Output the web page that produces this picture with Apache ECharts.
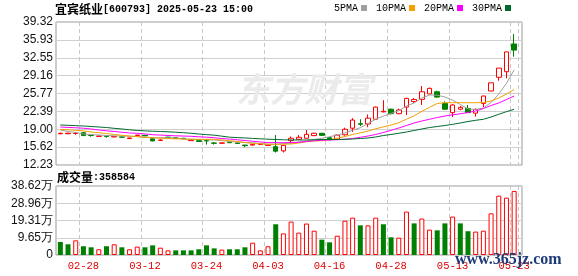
<!DOCTYPE html>
<html><head><meta charset="utf-8">
<script src="https://cdn.jsdelivr.net/npm/echarts@6/dist/echarts.min.js"></script>
<style>html,body{margin:0;padding:0;background:#fff}#c{width:578px;height:276px}</style>
</head><body><div id="c"></div>
<script>
const dates = [
 '02-25','02-26','02-27','02-28','03-03','03-04','03-05','03-06','03-07','03-10',
 '03-11','03-12','03-13','03-14','03-17','03-18','03-19','03-20','03-21','03-24',
 '03-25','03-26','03-27','03-28','03-31','04-01','04-02','04-03','04-07','04-08',
 '04-09','04-10','04-11','04-14','04-15','04-16','04-17','04-18','04-21','04-22',
 '04-23','04-24','04-25','04-28','04-29','04-30','05-06','05-07','05-08','05-09',
 '05-12','05-13','05-14','05-15','05-16','05-19','05-20','05-21','05-22','05-23'];
const openP = [
 18.15,18.15,18.2,18.35,17.85,17.65,17.75,17.55,17.55,17.23,
 17.82,17.85,17.2,16.9,17.5,17.4,17.3,16.85,16.84,16.85,
 16.4,16.35,16.55,16.4,16.0,16.0,16.1,15.95,15.7,14.9,
 16.85,17.1,17.3,17.8,18.24,17.4,17.1,17.95,19.2,20.05,
 20.0,20.9,22.3,22.8,21.95,23.2,24.25,24.66,25.7,26.1,
 23.9,22.15,22.8,22.95,22.05,23.9,26.25,28.85,29.9,35.15];
const closeP = [
 18.25,18.25,18.25,17.8,17.8,17.72,17.65,17.62,17.5,17.35,
 17.9,17.75,16.8,16.95,17.45,17.3,17.2,16.97,16.68,16.78,
 16.35,16.42,16.45,16.3,15.9,16.15,16.2,16.05,14.85,15.95,
 17.3,17.48,18.05,18.24,17.85,17.0,17.9,19.0,20.75,19.95,
 21.1,23.2,22.4,21.95,22.65,24.85,24.65,26.1,26.75,25.1,
 22.8,23.6,23.15,22.15,22.75,25.3,27.8,30.58,33.66,34.0];
const lowP = [
 18.05,18.1,17.95,17.75,17.6,17.6,17.4,17.5,17.35,17.2,
 17.75,17.7,16.7,16.8,17.35,17.25,17.15,16.8,16.6,16.1,
 16.1,16.3,16.4,16.25,15.6,15.95,16.05,15.9,14.6,14.6,
 16.35,17.05,17.25,17.7,17.75,16.95,17.05,17.8,18.5,19.6,
 19.4,20.8,22.2,21.8,21.85,21.7,24.0,23.6,25.6,24.95,
 22.75,21.3,22.6,22.1,21.4,23.2,26.2,28.2,28.65,32.75];
const highP = [
 18.35,18.35,18.45,18.5,18.1,17.8,17.85,17.7,17.65,17.4,
 17.95,17.9,17.3,17.1,17.55,17.45,17.35,17.0,16.9,17.1,
 16.55,16.5,16.6,16.45,16.05,16.2,16.3,16.15,17.9,16.0,
 17.65,17.9,18.86,18.35,18.3,17.45,18.0,19.3,21.1,20.9,
 21.8,23.3,24.5,22.95,22.9,24.95,24.9,27.2,26.9,26.3,
 24.3,23.75,23.4,23.6,22.95,25.35,27.8,30.6,33.66,37.03];
const ma5 = [
 18.86,18.58,18.39,18.10,18.01,17.91,17.82,17.76,17.72,17.67,
 17.63,17.44,17.40,17.40,17.40,17.35,17.19,17.10,17.06,17.01,
 16.97,16.87,16.68,16.59,16.49,16.44,16.30,16.15,16.15,16.30,
 16.34,16.59,16.78,17.06,17.29,17.59,17.91,18.30,18.80,19.30,
 20.10,20.90,21.50,22.00,22.50,23.41,23.98,24.92,25.49,25.45,
 25.11,24.54,23.69,22.84,22.75,23.03,24.07,25.68,27.70,30.23];
const ma10 = [
 18.99,18.90,18.80,18.69,18.48,18.35,18.20,18.01,17.86,17.72,
 17.59,17.50,17.40,17.31,17.25,17.19,17.14,17.10,17.10,17.10,
 17.10,16.97,16.83,16.68,16.49,16.34,16.25,16.17,16.15,16.17,
 16.21,16.40,16.64,16.78,16.83,17.01,17.29,17.63,18.01,18.33,
 18.65,19.10,19.45,19.80,20.25,20.90,21.55,22.40,23.15,23.88,
 24.03,24.03,24.03,24.03,24.03,24.07,24.35,24.92,25.68,26.53];
const ma20 = [
 19.43,19.35,19.28,19.20,19.05,18.86,18.71,18.58,18.43,18.29,
 18.24,18.10,17.97,17.90,17.82,17.76,17.72,17.67,17.57,17.50,
 17.40,17.25,17.14,17.01,16.87,16.74,16.59,16.47,16.46,16.46,
 16.49,16.53,16.68,16.82,16.91,16.97,17.01,17.10,17.25,17.48,
 17.72,18.01,18.39,18.80,19.24,19.71,20.19,20.57,20.89,21.23,
 21.51,21.74,21.93,22.18,22.46,22.93,23.50,23.98,24.64,25.30];
const ma30 = [
 19.81,19.75,19.68,19.62,19.52,19.43,19.33,19.18,19.05,18.90,
 18.77,18.69,18.63,18.58,18.52,18.44,18.35,18.24,18.10,17.99,
 17.88,17.69,17.50,17.42,17.35,17.27,17.19,17.12,17.06,17.01,
 16.97,16.97,16.97,17.01,17.06,17.06,17.06,17.10,17.16,17.25,
 17.35,17.54,17.82,18.01,18.24,18.48,18.77,19.05,19.33,19.52,
 19.71,19.94,20.19,20.47,20.70,20.89,21.32,21.84,22.33,22.78];
const volumes = [
 73000,60000,82000,49000,43000,32000,49000,60000,43000,32000,
 47000,43000,54000,41000,26000,26000,26000,26000,32000,54000,
 37000,30000,32000,32000,43000,69000,26000,49000,172000,121000,
 187000,125000,176000,136000,86000,71000,108000,192000,209000,166000,
 166000,209000,172000,99000,97000,243000,177000,204000,142000,138000,
 177000,215000,177000,133000,131000,136000,233000,332000,321000,358584];
const volUp = [
 0,0,1,0,0,1,0,1,0,1,
 1,0,0,1,1,0,0,0,0,0,
 0,1,0,0,0,1,1,1,0,1,
 1,1,1,1,0,0,1,1,1,0,
 1,1,0,0,1,1,0,1,1,0,
 0,1,0,0,1,1,1,1,1,1];
const priceTicks = [12.23,15.62,19.00,22.39,25.77,29.16,32.55,35.93,39.32];
const volTickLabels = ['0','9.65万','19.31万','28.96万','38.62万'];
const maNames = ['5PMA','10PMA','20PMA','30PMA'];
const lastVolText = '358584';

const RED = '#ff0000', GREEN = '#008000';
const chart = echarts.init(document.getElementById('c'), null, {renderer:'canvas'});
const labelIdx = (i) => i % 8 === 3;
const pMin = priceTicks[0], pMax = priceTicks[priceTicks.length-1];
const pInt = (pMax - pMin) / (priceTicks.length - 1);
const vMax = 386200;
const L = 56, FW = 466, DL = 56.5, DW = 461.5;
const gridLineColor = '#d0d0d0';

const candleData = openP.map((o,i)=>[o, closeP[i], lowP[i], highP[i]]);
const volData = volumes.map((v,i)=>({value:v, itemStyle: volUp[i] ?
  {color:'#ffffff', borderColor:RED, borderWidth:1} : {color:GREEN, borderColor:GREEN, borderWidth:0}}));

const maColors = ['#a0a0a0','#f0a000','#ff00ff','#006a2e'];
const maData = [ma5, ma10, ma20, ma30];

const option = {
  animation:false,
  backgroundColor:'#fff',
  title:[
    {text:'{a|宜宾纸业}{b|[600793] 2025-05-23 15:00}', left:55, top:2, padding:0,
     textStyle:{rich:{a:{fontFamily:'Noto Sans CJK SC', fontSize:12, lineHeight:14, color:'#000'},
                      b:{fontFamily:'Liberation Mono', fontSize:10, lineHeight:14, color:'#000'}}}},
    {text:'{a|成交量}{b|:'+lastVolText+'}', left:57, top:170, padding:0,
     textStyle:{rich:{a:{fontFamily:'Noto Sans CJK SC', fontSize:12, lineHeight:14, color:'#000'},
                      b:{fontFamily:'Liberation Mono', fontSize:10, lineHeight:14, color:'#000'}}}}
  ],
  legend:{
    data:maNames, right:67, top:3, align:'right', icon:'rect', itemWidth:6, itemHeight:6, itemGap:9,
    padding:0, selectedMode:false,
    textStyle:{fontFamily:'Liberation Mono', fontSize:10, color:'#000', padding:[0,-2,0,0]}
  },
  graphic:[
    {type:'text', z:1, silent:true, left:236, top:72,
     style:{text:'东方财富', font:'bold italic 34px "Noto Sans CJK SC"', fill:'#ebebeb'}},
    {type:'text', z:100, silent:true, left:455, top:252,
     style:{text:'www.365jz.com', font:'bold 16px "Liberation Serif"', fill:'#1e3a78'}}
  ],
  grid:[
    {left:L, top:22, width:FW, height:143, show:true, borderColor:'#999', borderWidth:1, backgroundColor:'transparent'},
    {left:DL, top:22, width:DW, height:143},
    {left:L, top:186, width:FW, height:69, show:true, borderColor:'#999', borderWidth:1, backgroundColor:'transparent'},
    {left:DL, top:186, width:DW, height:69}
  ],
  xAxis:[
    {gridIndex:0, type:'value', show:false, min:0, max:1},
    {gridIndex:1, type:'category', data:dates, boundaryGap:true,
     axisLine:{show:false}, axisTick:{show:false}, axisLabel:{show:false},
     splitLine:{show:true, interval:(i)=>labelIdx(i), lineStyle:{color:'#c8c8c8', type:[4,3]}}},
    {gridIndex:2, type:'value', show:false, min:0, max:1},
    {gridIndex:3, type:'category', data:dates, boundaryGap:true,
     axisLine:{show:false}, axisTick:{show:false},
     axisLabel:{show:true, interval:(i)=>labelIdx(i), color:'#e00000', fontSize:10.5,
       fontFamily:'Liberation Mono', margin:6},
     splitLine:{show:true, interval:(i)=>labelIdx(i), lineStyle:{color:'#c8c8c8', type:[4,3]}}}
  ],
  yAxis:[
    {gridIndex:0, type:'value', min:pMin, max:pMax, interval:pInt,
     axisLine:{show:false}, axisTick:{show:false},
     splitLine:{show:true, lineStyle:{color:gridLineColor}},
     axisLabel:{margin:3, fontSize:12, fontFamily:'Liberation Sans', color:'#111',
       formatter:(v)=>{let b=priceTicks[0];for(const t of priceTicks){if(Math.abs(t-v)<Math.abs(b-v))b=t;}return b.toFixed(2);}}},
    {gridIndex:1, type:'value', min:pMin, max:pMax, show:false, splitLine:{show:false}},
    {gridIndex:2, type:'value', min:0, max:vMax, interval:vMax/4,
     axisLine:{show:false}, axisTick:{show:false},
     splitLine:{show:true, lineStyle:{color:gridLineColor}},
     axisLabel:{margin:3, fontSize:12, fontFamily:'Liberation Sans', color:'#111',
       formatter:(v)=>volTickLabels[Math.round(v/(vMax/4))]}},
    {gridIndex:3, type:'value', min:0, max:vMax, show:false, splitLine:{show:false}}
  ],
  series:[
    {type:'candlestick', name:'K', xAxisIndex:1, yAxisIndex:1, data:candleData, barWidth:5, z:3,
     itemStyle:{color:'#ffffff', color0:GREEN, borderColor:RED, borderColor0:GREEN, borderWidth:1}},
    ...maNames.map((n,k)=>({type:'line', name:n, xAxisIndex:1, yAxisIndex:1, data:maData[k],
      showSymbol:false, symbol:'none', z:4, itemStyle:{color:maColors[k]},
      lineStyle:{color:maColors[k], width:1}})),
    {type:'bar', name:'VOL', xAxisIndex:3, yAxisIndex:3, data:volData, barWidth:5, z:3}
  ]
};
chart.setOption(option);
</script></body></html>
